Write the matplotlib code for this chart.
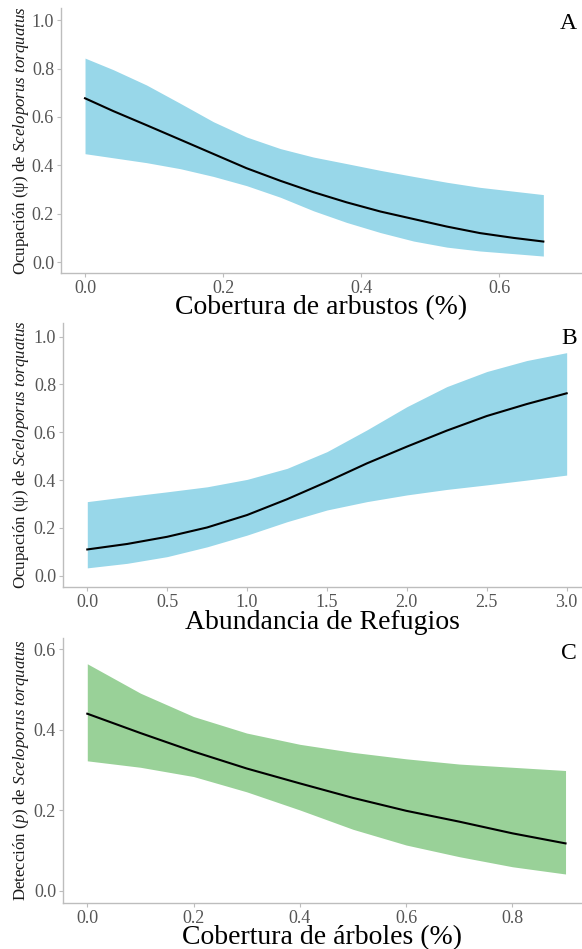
import numpy as np
import matplotlib
matplotlib.use("Agg")
import matplotlib.pyplot as plt

plt.rcParams['font.family'] = ['Liberation Serif', 'DejaVu Serif']
plt.rcParams['mathtext.fontset'] = 'custom'
plt.rcParams['mathtext.rm'] = 'Liberation Serif'
plt.rcParams['mathtext.it'] = 'Liberation Serif:italic'

# Panel A: Cobertura de arbustos
a_x = [0.0, 0.041, 0.089, 0.138, 0.186, 0.234, 0.283, 0.331, 0.379, 0.428, 0.476, 0.524, 0.572, 0.621, 0.664]
a_mean = [0.677, 0.624, 0.566, 0.506, 0.447, 0.388, 0.336, 0.289, 0.247, 0.209, 0.178, 0.147, 0.120, 0.100, 0.085]
a_low = [0.448, 0.431, 0.411, 0.386, 0.354, 0.316, 0.268, 0.212, 0.164, 0.122, 0.087, 0.062, 0.046, 0.035, 0.025]
a_up = [0.843, 0.795, 0.732, 0.656, 0.580, 0.517, 0.469, 0.434, 0.407, 0.379, 0.354, 0.330, 0.309, 0.293, 0.279]

# Panel B: Abundancia de Refugios
b_x = [0.0, 0.25, 0.5, 0.75, 1.0, 1.25, 1.5, 1.75, 2.0, 2.25, 2.5, 2.75, 3.0]
b_mean = [0.110, 0.133, 0.163, 0.202, 0.254, 0.320, 0.393, 0.470, 0.540, 0.607, 0.668, 0.718, 0.763]
b_low = [0.033, 0.052, 0.080, 0.121, 0.170, 0.226, 0.275, 0.310, 0.338, 0.361, 0.380, 0.400, 0.421]
b_up = [0.310, 0.331, 0.351, 0.372, 0.403, 0.449, 0.519, 0.610, 0.707, 0.791, 0.854, 0.900, 0.933]

# Panel C: Cobertura de árboles
c_x = [0.0, 0.1, 0.2, 0.3, 0.4, 0.5, 0.6, 0.7, 0.8, 0.9]
c_mean = [0.440, 0.392, 0.346, 0.304, 0.267, 0.231, 0.199, 0.172, 0.143, 0.118]
c_low = [0.323, 0.307, 0.284, 0.246, 0.201, 0.153, 0.114, 0.085, 0.060, 0.042]
c_up = [0.564, 0.491, 0.433, 0.392, 0.364, 0.344, 0.328, 0.315, 0.307, 0.299]

xlabels = ["Cobertura de arbustos (%)", "Abundancia de Refugios", "Cobertura de árboles (%)"]
ylabels = ["Ocupación (ψ) de $\\mathit{Sceloporus\\ torquatus}$",
           "Ocupación (ψ) de $\\mathit{Sceloporus\\ torquatus}$",
           "Detección ($\\mathit{p}$) de $\\mathit{Sceloporus\\ torquatus}$"]
letters = ["A", "B", "C"]
xticks = [[0.0, 0.2, 0.4, 0.6], [0.0, 0.5, 1.0, 1.5, 2.0, 2.5, 3.0], [0.0, 0.2, 0.4, 0.6, 0.8]]
yticks = [[0.0, 0.2, 0.4, 0.6, 0.8, 1.0], [0.0, 0.2, 0.4, 0.6, 0.8, 1.0], [0.0, 0.2, 0.4, 0.6]]

W, H = 582, 949
fig = plt.figure(figsize=(W / 100, H / 100), dpi=100)

boxes = [(61, 8, 582, 273), (63, 323, 582, 587), (63, 638, 582, 903)]
xlims = [(-0.0348, 0.720), (-0.152, 3.096), (-0.0457, 0.931)]
ylims = [(-0.045, 1.05), (-0.047, 1.057), (-0.030, 0.628)]
fills = ["#98D7E9", "#98D7E9", "#99D198"]
data = [(a_x, a_mean, a_low, a_up), (b_x, b_mean, b_low, b_up), (c_x, c_mean, c_low, c_up)]

spine_col = "#BDBDBD"
tick_col = "#555555"

for i in range(3):
    l, t, r, b = boxes[i]
    ax = fig.add_axes([l / W, (H - b) / H, (r - l) / W, (b - t) / H])
    x, m, lo, up = data[i]
    ax.fill_between(x, lo, up, color=fills[i], linewidth=0)
    ax.plot(x, m, color="black", linewidth=1.5, solid_joinstyle="round")
    ax.set_xlim(*xlims[i])
    ax.set_ylim(*ylims[i])
    ax.set_xticks(xticks[i])
    ax.set_yticks(yticks[i])
    ax.set_xticklabels([f"{v:.1f}" for v in xticks[i]])
    ax.set_yticklabels([f"{v:.1f}" for v in yticks[i]])
    for s in ["top", "right"]:
        ax.spines[s].set_visible(False)
    for s in ["left", "bottom"]:
        ax.spines[s].set_color(spine_col)
        ax.spines[s].set_linewidth(1.0)
    ax.tick_params(axis="both", colors=spine_col, labelcolor=tick_col,
                   labelsize=13, length=3, width=0.8, pad=2)
    ax.set_xlabel(xlabels[i], fontsize=20, color="black", labelpad=-1)
    fig.text(21 / W, (H - (t + b) / 2) / H, ylabels[i], rotation=90,
             ha="center", va="center", fontsize=12.2, color="#1a1a1a")
    ax.text(0.99, 0.94, letters[i], transform=ax.transAxes, ha="right", va="center",
            fontsize=17, color="black")

fig.savefig("out.png", dpi=100)
